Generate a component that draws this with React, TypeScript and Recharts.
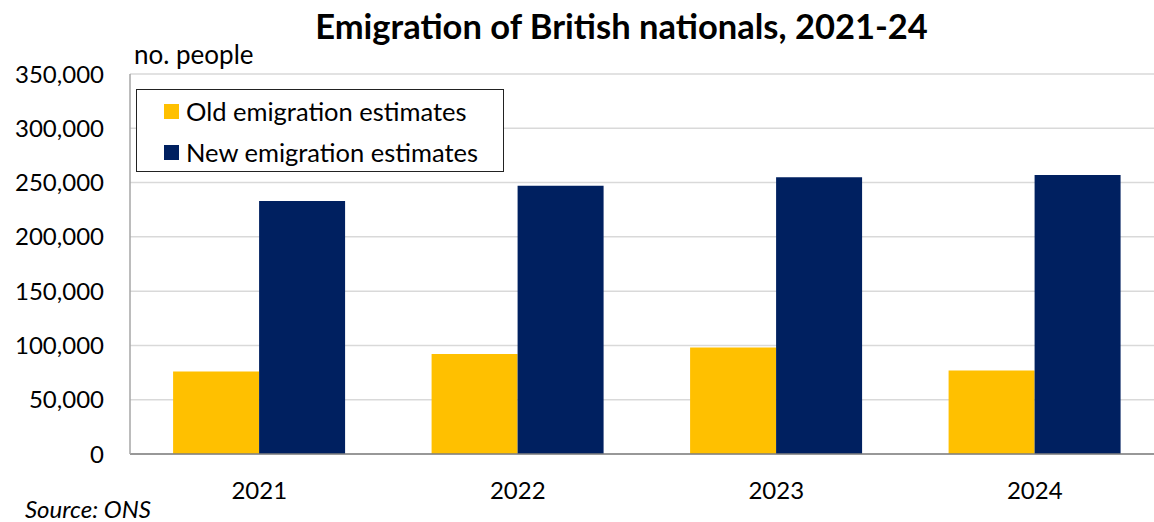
import { BarChart, Bar, XAxis, YAxis, CartesianGrid } from 'recharts';

const years = ['2021', '2022', '2023', '2024'];
const oldEstimates = [76000, 92000, 98000, 77000];
const newEstimates = [233000, 247000, 255000, 257000];
const yTicks = [0, 50000, 100000, 150000, 200000, 250000, 300000, 350000];

const data = years.map((year, i) => ({
  year,
  old: oldEstimates[i],
  new: newEstimates[i],
}));

const FONT = 'Lato, "Open Sans", sans-serif';

const legendItems = [
  { label: 'Old emigration estimates', color: '#FFC000' },
  { label: 'New emigration estimates', color: '#002060' },
];

// legend drawn as a plain box over the plot, like the Excel original
const LegendBox = () => (
  <div
    style={{
      position: 'absolute',
      left: 136,
      top: 89,
      width: 366,
      height: 81,
      border: '1px solid #222',
      background: '#fff',
    }}
  >
    {legendItems.map((item, i) => (
      <div
        key={item.label}
        style={{
          position: 'absolute',
          left: 27,
          top: 7 + i * 41,
          height: 28,
          lineHeight: '28px',
          display: 'flex',
          alignItems: 'center',
          fontFamily: FONT,
          fontSize: 25.5,
          color: '#000',
          whiteSpace: 'nowrap',
        }}
      >
        <span style={{ display: 'inline-block', width: 15, height: 15, background: item.color, marginRight: 7 }} />
        {item.label}
      </div>
    ))}
  </div>
);

export default function App() {
  return (
    <div
      style={{
        position: 'absolute',
        left: 0,
        top: 0,
        width: 1154,
        height: 522,
        overflow: 'hidden',
        background: '#fff',
        fontFamily: FONT,
      }}
    >
      <BarChart
        width={1170}
        height={522}
        data={data}
        margin={{ top: 74, right: 6, bottom: 0, left: 0 }}
        barCategoryGap="16.67%"
        barGap={0}
      >
        <CartesianGrid vertical={false} stroke="#d9d9d9" strokeWidth={1.5} />
        <XAxis
          dataKey="year"
          height={68}
          tickLine={false}
          tickSize={0}
          tickMargin={28}
          stroke="#7f7f7f"
          strokeWidth={1.5}
          tick={{ fill: '#000', fontSize: 24, fontFamily: FONT }}
        />
        <YAxis
          width={130}
          domain={[0, 350000]}
          ticks={yTicks}
          interval={0}
          tickLine={false}
          tickSize={0}
          tickMargin={26}
          stroke="#a6a6a6"
          strokeWidth={1.5}
          tickFormatter={(v: number) => v.toLocaleString('en-US')}
          tick={{ fill: '#000', fontSize: 24, fontFamily: FONT }}
        />
        <Bar dataKey="old" name="Old emigration estimates" fill="#FFC000" isAnimationActive={false} />
        <Bar dataKey="new" name="New emigration estimates" fill="#002060" isAnimationActive={false} />
      </BarChart>
      <div
        style={{
          position: 'absolute',
          left: 0,
          width: 1243,
          top: 9,
          lineHeight: 1,
          textAlign: 'center',
          fontSize: 34.5,
          fontWeight: 700,
          color: '#000',
        }}
      >
        Emigration of British nationals, 2021-24
      </div>
      <div style={{ position: 'absolute', left: 134, top: 41, lineHeight: 1, fontSize: 26, color: '#000' }}>
        no. people
      </div>
      <LegendBox />
      <div
        style={{
          position: 'absolute',
          left: 25,
          top: 497,
          lineHeight: 1,
          fontSize: 24,
          fontStyle: 'italic',
          color: '#000',
        }}
      >
        Source: ONS
      </div>
    </div>
  );
}
